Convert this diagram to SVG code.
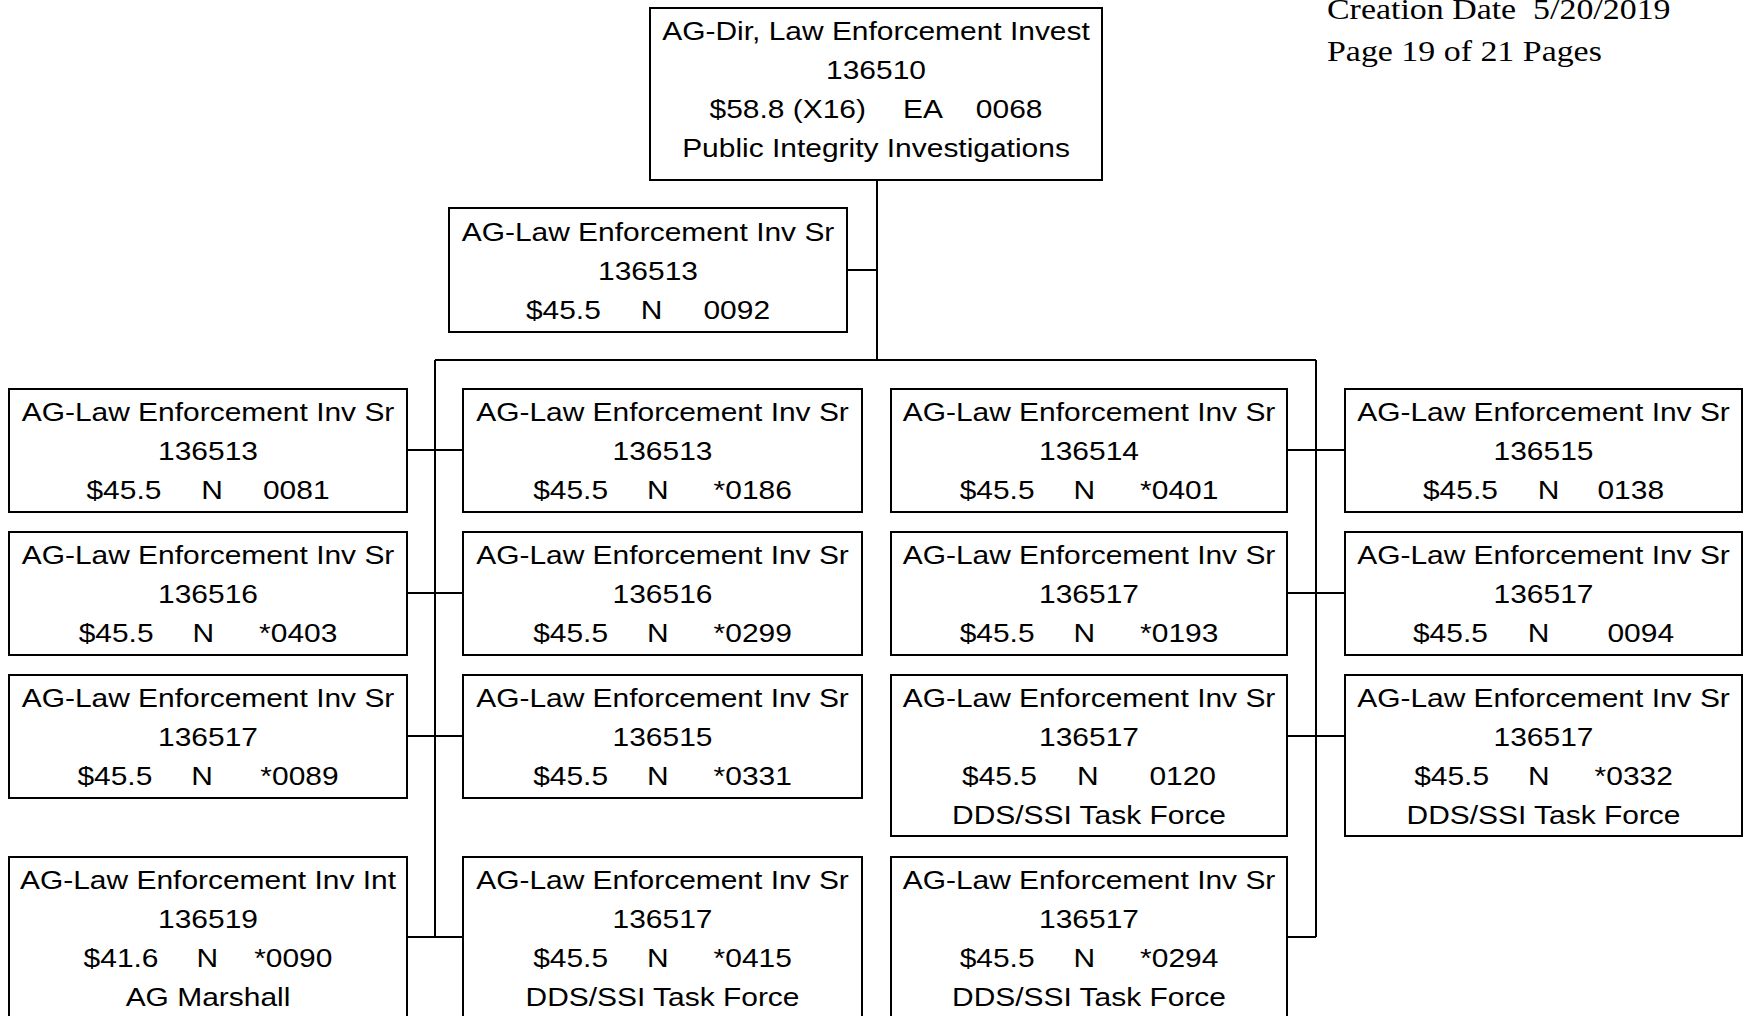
<svg xmlns="http://www.w3.org/2000/svg" width="1745" height="1016" viewBox="0 0 1745 1016">
<style>
rect.box{fill:#fff;stroke:#000;stroke-width:2}
.conn path{fill:none;stroke:#000;stroke-width:2}
text{font-family:"Liberation Sans",Arial,sans-serif;font-size:26.5px;text-anchor:middle;fill:#000}
text.hdr{font-family:"Liberation Serif","Times New Roman",serif;font-size:30px;text-anchor:start}
</style>
<rect width="1745" height="1016" fill="#fff"/>
<g id="header">
<text class="hdr" transform="matrix(1.13 0 0 1 1327 19)" xml:space="preserve">Creation Date  5/20/2019</text>
<text class="hdr" transform="matrix(1.13 0 0 1 1327 61)">Page 19 of 21 Pages</text>
</g>
<g class="conn" id="connectors">
<path d="M877 180V360"/>
<path d="M847 270H877"/>
<path d="M435 360H1316"/>
<path d="M435 360V937"/>
<path d="M1316 360V937"/>
<path d="M407 450H463M1287 450H1345"/>
<path d="M407 593H463M1287 593H1345"/>
<path d="M407 736H463M1287 736H1345"/>
<path d="M407 937H463M1287 937H1316"/>
</g>
<g id="n136510">
<rect class="box" x="650" y="8" width="452" height="172"/>
<g transform="translate(876 8) scale(1.13 1)">
<text y="32.5">AG-Dir, Law Enforcement Invest</text>
<text y="71.5">136510</text>
<text y="110.5">$58.8 (X16)<tspan dx="32.7">EA</tspan><tspan dx="29.2">0068</tspan></text>
<text y="149.5">Public Integrity Investigations</text>
</g>
</g>
<g id="n0092">
<rect class="box" x="449" y="208" width="398" height="124"/>
<g transform="translate(648 208) scale(1.13 1)">
<text y="33">AG-Law Enforcement Inv Sr</text>
<text y="72">136513</text>
<text y="111">$45.5<tspan dx="35.4">N</tspan><tspan dx="36.3">0092</tspan></text>
</g>
</g>
<g id="n0081">
<rect class="box" x="9" y="389" width="398" height="123"/>
<g transform="translate(208 389) scale(1.13 1)">
<text y="32.5">AG-Law Enforcement Inv Sr</text>
<text y="71.5">136513</text>
<text y="110.5">$45.5<tspan dx="35.4">N</tspan><tspan dx="35.4">0081</tspan></text>
</g>
</g>
<g id="n0186">
<rect class="box" x="463" y="389" width="399" height="123"/>
<g transform="translate(662.5 389) scale(1.13 1)">
<text y="32.5">AG-Law Enforcement Inv Sr</text>
<text y="71.5">136513</text>
<text y="110.5">$45.5<tspan dx="34.5">N</tspan><tspan dx="39.8">*0186</tspan></text>
</g>
</g>
<g id="n0401">
<rect class="box" x="891" y="389" width="396" height="123"/>
<g transform="translate(1089 389) scale(1.13 1)">
<text y="32.5">AG-Law Enforcement Inv Sr</text>
<text y="71.5">136514</text>
<text y="110.5">$45.5<tspan dx="34.5">N</tspan><tspan dx="39.8">*0401</tspan></text>
</g>
</g>
<g id="n0138">
<rect class="box" x="1345" y="389" width="397" height="123"/>
<g transform="translate(1543.5 389) scale(1.13 1)">
<text y="32.5">AG-Law Enforcement Inv Sr</text>
<text y="71.5">136515</text>
<text y="110.5">$45.5<tspan dx="35.4">N</tspan><tspan dx="33.6">0138</tspan></text>
</g>
</g>
<g id="n0403">
<rect class="box" x="9" y="532" width="398" height="123"/>
<g transform="translate(208 532) scale(1.13 1)">
<text y="32.5">AG-Law Enforcement Inv Sr</text>
<text y="71.5">136516</text>
<text y="110.5">$45.5<tspan dx="34.5">N</tspan><tspan dx="39.8">*0403</tspan></text>
</g>
</g>
<g id="n0299">
<rect class="box" x="463" y="532" width="399" height="123"/>
<g transform="translate(662.5 532) scale(1.13 1)">
<text y="32.5">AG-Law Enforcement Inv Sr</text>
<text y="71.5">136516</text>
<text y="110.5">$45.5<tspan dx="34.5">N</tspan><tspan dx="39.8">*0299</tspan></text>
</g>
</g>
<g id="n0193">
<rect class="box" x="891" y="532" width="396" height="123"/>
<g transform="translate(1089 532) scale(1.13 1)">
<text y="32.5">AG-Law Enforcement Inv Sr</text>
<text y="71.5">136517</text>
<text y="110.5">$45.5<tspan dx="34.5">N</tspan><tspan dx="39.8">*0193</tspan></text>
</g>
</g>
<g id="n0094">
<rect class="box" x="1345" y="532" width="397" height="123"/>
<g transform="translate(1543.5 532) scale(1.13 1)">
<text y="32.5">AG-Law Enforcement Inv Sr</text>
<text y="71.5">136517</text>
<text y="110.5">$45.5<tspan dx="35.4">N</tspan><tspan dx="51.3">0094</tspan></text>
</g>
</g>
<g id="n0089">
<rect class="box" x="9" y="675" width="398" height="123"/>
<g transform="translate(208 675) scale(1.13 1)">
<text y="32.5">AG-Law Enforcement Inv Sr</text>
<text y="71.5">136517</text>
<text y="110.5">$45.5<tspan dx="34.5">N</tspan><tspan dx="42">*0089</tspan></text>
</g>
</g>
<g id="n0331">
<rect class="box" x="463" y="675" width="399" height="123"/>
<g transform="translate(662.5 675) scale(1.13 1)">
<text y="32.5">AG-Law Enforcement Inv Sr</text>
<text y="71.5">136515</text>
<text y="110.5">$45.5<tspan dx="34.5">N</tspan><tspan dx="39.8">*0331</tspan></text>
</g>
</g>
<g id="n0120">
<rect class="box" x="891" y="675" width="396" height="161"/>
<g transform="translate(1089 675) scale(1.13 1)">
<text y="32.5">AG-Law Enforcement Inv Sr</text>
<text y="71.5">136517</text>
<text y="110.5">$45.5<tspan dx="35.4">N</tspan><tspan dx="45">0120</tspan></text>
<text y="149.5">DDS/SSI Task Force</text>
</g>
</g>
<g id="n0332">
<rect class="box" x="1345" y="675" width="397" height="161"/>
<g transform="translate(1543.5 675) scale(1.13 1)">
<text y="32.5">AG-Law Enforcement Inv Sr</text>
<text y="71.5">136517</text>
<text y="110.5">$45.5<tspan dx="34.5">N</tspan><tspan dx="39.8">*0332</tspan></text>
<text y="149.5">DDS/SSI Task Force</text>
</g>
</g>
<g id="n0090">
<rect class="box" x="9" y="857" width="398" height="200"/>
<g transform="translate(208 857) scale(1.13 1)">
<text y="32.5">AG-Law Enforcement Inv Int</text>
<text y="71.5">136519</text>
<text y="110.5">$41.6<tspan dx="33.6">N</tspan><tspan dx="31.9">*0090</tspan></text>
<text y="149.5">AG Marshall</text>
</g>
</g>
<g id="n0415">
<rect class="box" x="463" y="857" width="399" height="200"/>
<g transform="translate(662.5 857) scale(1.13 1)">
<text y="32.5">AG-Law Enforcement Inv Sr</text>
<text y="71.5">136517</text>
<text y="110.5">$45.5<tspan dx="34.5">N</tspan><tspan dx="39.8">*0415</tspan></text>
<text y="149.5">DDS/SSI Task Force</text>
</g>
</g>
<g id="n0294">
<rect class="box" x="891" y="857" width="396" height="200"/>
<g transform="translate(1089 857) scale(1.13 1)">
<text y="32.5">AG-Law Enforcement Inv Sr</text>
<text y="71.5">136517</text>
<text y="110.5">$45.5<tspan dx="34.5">N</tspan><tspan dx="39.8">*0294</tspan></text>
<text y="149.5">DDS/SSI Task Force</text>
</g>
</g>
</svg>
